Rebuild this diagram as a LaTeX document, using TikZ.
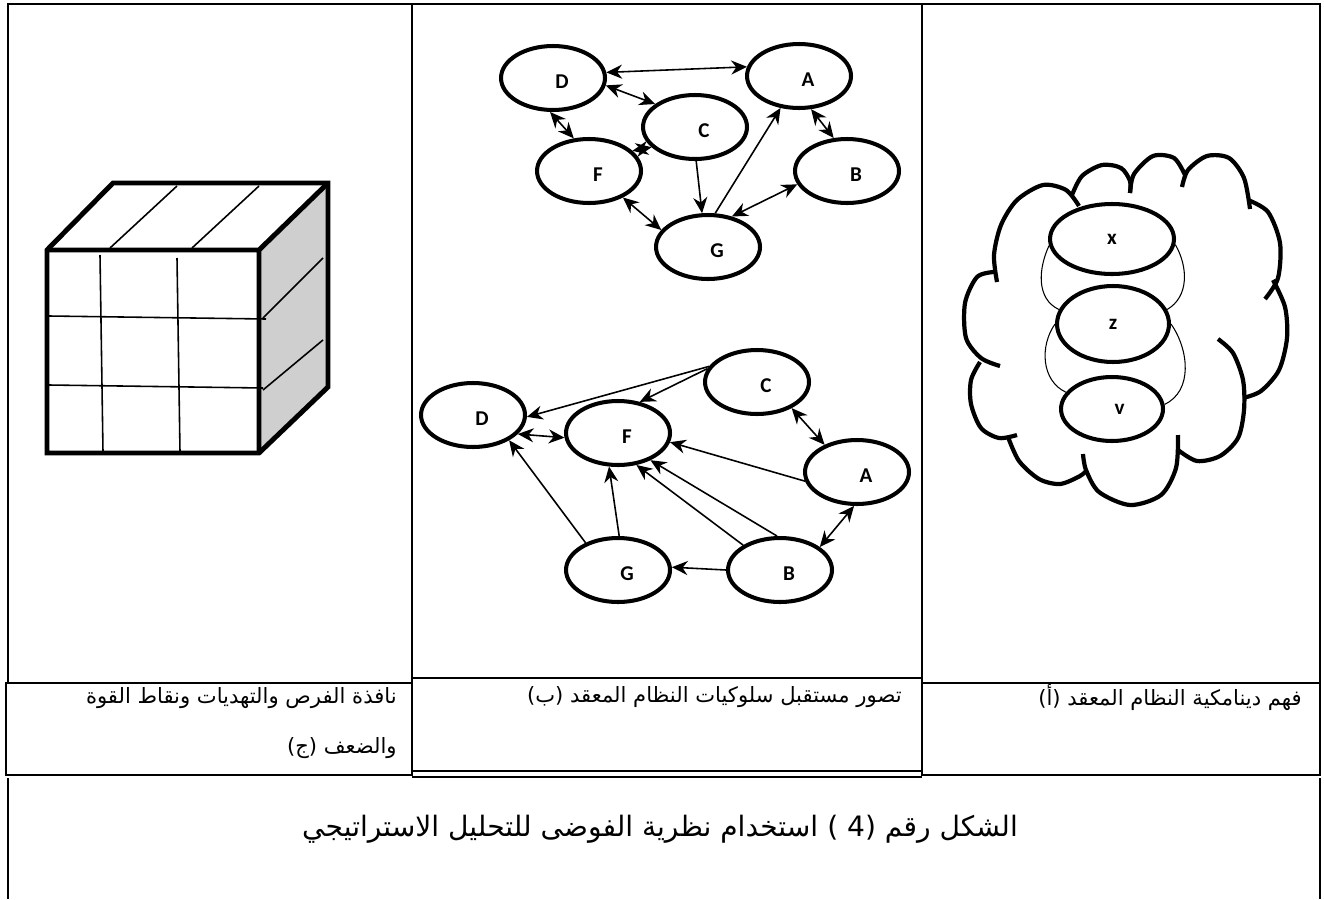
\documentclass[tikz,border=0pt]{standalone}
\usepackage{fontspec}
\setmainfont{Carlito}
\newfontfamily\arabicfont[Script=Arabic]{DejaVu Sans}
\TeXXeTstate=1
\usetikzlibrary{shapes.geometric,arrows.meta}
\tikzset{
	frame/.style={line width=0.9pt},
	cell/.style={line width=1.3pt},
	letter/.style={font=\bfseries\fontsize{12}{14}\selectfont},
	ring/.style={ellipse, draw, line width=2.3pt, fill=white, inner sep=0pt,
		minimum width=2.08cm, minimum height=1.28cm, letter},
	blob/.style={ring, label={[letter, xshift=0.18cm, yshift=-0.07cm]center:#1}},
	link/.style={line width=0.9pt, -{Stealth[length=9pt,width=8pt]}},
	dlink/.style={line width=0.9pt, {Stealth[length=9pt,width=8pt]}-{Stealth[length=9pt,width=8pt]}},
	puff/.style={line width=2.4pt},
	strand/.style={line width=0.6pt},
	tag/.style={font=\arabicfont\fontsize{12}{14}\selectfont, inner sep=0pt},
}

\begin{document}
\begin{tikzpicture}[x=0.02cm, y=-0.02cm]
		\useasboundingbox (0,0) rectangle (1324,899);
		% table
		\draw[frame] (8,4) rectangle (412,683);
		\draw[frame] (412,4) rectangle (922,678);
		\draw[frame] (922,4) rectangle (1320,683);
		\draw[cell] (6,683) rectangle (412,775);
		\draw[cell] (412,678) rectangle (922,771);
		\draw[cell] (922,683) rectangle (1320,775);
		\draw[frame] (412,777) -- (922,777);
		\draw[frame] (8,778) -- (8,899);
		\draw[frame] (1320,778) -- (1320,899);

		% cube
		\fill[black!19] (259,250) -- (328,183) -- (328,387) -- (259,453) -- cycle;
		\draw[line width=0.9pt] (100,255) -- (103,452);
		\draw[line width=0.9pt] (177,258) -- (180,452);
		\draw[line width=0.9pt] (49,316) -- (266,319);
		\draw[line width=0.9pt] (49,385) -- (263,388);
		\draw[line width=0.9pt] (110,248) -- (177,186);
		\draw[line width=0.9pt] (192,248) -- (259,186);
		\draw[line width=0.9pt] (263,318) -- (323,258);
		\draw[line width=0.9pt] (263,390) -- (323,340);
		\draw[line width=2.8pt] (47,250) -- (113,183) -- (328,183) -- (328,387) -- (259,453) -- (47,453) -- cycle;
		\draw[line width=2.8pt] (47,250) -- (259,250) -- (259,453) (259,250) -- (328,183);

		% upper graph
		\node[blob=D] (D1) at (553,78) {};
		\node[blob=A] (A1) at (799,76) {};
		\node[blob=C] (C1) at (695,127) {};
		\node[blob=F] (F1) at (589,171) {};
		\node[blob=B] (B1) at (847,171) {};
		\node[blob=G] (G1) at (708,247) {};
		\draw[dlink] (D1.6) -- (A1.170);
		\draw[dlink] (D1.-8) -- (C1.150);
		\draw[dlink] (D1.-95) -- (F1.115);
		\draw[dlink] (F1.25) -- (C1.-155);
		\draw[link] (C1.-88) -- (G1.100);
		\draw[link] (G1.78) -- (A1.-120);
		\draw[dlink] (A1.-70) -- (B1.112);
		\draw[dlink] (B1.-165) -- (G1.52);
		\draw[dlink] (F1.-38) -- (G1.160);

		% lower graph
		\node[blob=D] (D2) at (473,415) {};
		\node[blob=F] (F2) at (618,433) {};
		\node[blob=C] (C2) at (757,382) {};
		\node[blob=A] (A2) at (857,472) {};
		\node[blob=G] (G2) at (618,570) {};
		\node[blob=B] (B2) at (780,570) {};
		\draw[link] (C2.162) -- (D2.-2);
		\draw[link] (C2.165) -- (F2.55);
		\draw[dlink] (D2.-23) -- (F2.-175);
		\draw[link] (G2.140) -- (D2.-35);
		\draw[link] (G2.88) -- (F2.-105);
		\draw[link] (B2.146) -- (F2.-60);
		\draw[link] (B2.95) -- (F2.-40);
		\draw[link] (A2.-170) -- (F2.-10);
		\draw[dlink] (C2.-37) -- (A2.140);
		\draw[dlink] (A2.-95) -- (B2.30);
		\draw[link] (B2.180) -- (G2.3);

		% cloud
		\draw[puff] plot[smooth] coordinates {(997,282) (994,255) (1001,225) (1017,200) (1043,185) (1066,190) (1079,206)};
		\draw[puff] plot[smooth] coordinates {(1072,195) (1082,176) (1102,165) (1121,168) (1130,181) (1130,193)};
		\draw[puff] plot[smooth] coordinates {(1130,193) (1134,174) (1153,156) (1174,158) (1185,175)};
		\draw[puff] plot[smooth] coordinates {(1182,187) (1188,170) (1207,156) (1229,158) (1244,178) (1250,209)};
		\draw[puff] plot[smooth] coordinates {(1248,200) (1268,212) (1280,243) (1278,278) (1265,299)};
		\draw[puff] plot[smooth] coordinates {(1273,280) (1285,307) (1287,338) (1279,370) (1261,391) (1243,398)};
		\draw[puff] plot[smooth] coordinates {(1218,339) (1233,353) (1243,380) (1244,410) (1238,438) (1220,456) (1197,461) (1178,450)};
		\draw[puff] plot[smooth] coordinates {(1178,435) (1176,468) (1161,495) (1130,505) (1099,492) (1086,470) (1083,454)};
		\draw[puff] plot[smooth] coordinates {(1087,470) (1080,476) (1060,484) (1039,479) (1019,461) (1008,437)};
		\draw[puff] plot[smooth] coordinates {(1017,435) (999,438) (981,428) (971,404) (971,380) (980,362)};
		\draw[puff] plot[smooth] coordinates {(1000,366) (981,358) (966,338) (965,303) (977,277) (994,272)};

		\node[ring, minimum width=2.48cm, minimum height=1.4cm] (X) at (1112,239) {x};
		\node[ring, minimum width=2.24cm, minimum height=1.52cm] (Z) at (1113,324) {z};
		\node[ring, minimum width=2.04cm, minimum height=1.28cm] (V) at (1112,409) {\hspace{0.3cm}v};
		\draw[strand] (X.186) to[out=-115, in=155] (Z.165);
		\draw[strand] (X.-5) to[out=-60, in=30] (Z.15);
		\draw[strand] (Z.180) to[out=-125, in=155] (V.160);
		\draw[strand] (Z.0) to[out=-55, in=25] (V.5);

		% labels
		\node[tag, anchor=east] (la) at (1302,698) {\beginR فهم دينامكية النظام المعقد (أ)\endR};
		\node[tag, anchor=east] (lb) at (902,697) {\beginR تصور مستقبل سلوكيات النظام المعقد (ب)\endR};
		\node[tag, anchor=east] (lc) at (397,698) {\beginR نافذة الفرص والتهديات ونقاط القوة\endR};
		\node[tag, anchor=east] (ld) at (397,748) {\beginR والضعف (ج)\endR};
		\node[tag, font=\arabicfont\fontsize{16}{19}\selectfont] (capt) at (660,829)
			{\beginR الشكل رقم \hbox{(4 )} استخدام نظرية الفوضى للتحليل الاستراتيجي\endR};
\end{tikzpicture}
\end{document}
